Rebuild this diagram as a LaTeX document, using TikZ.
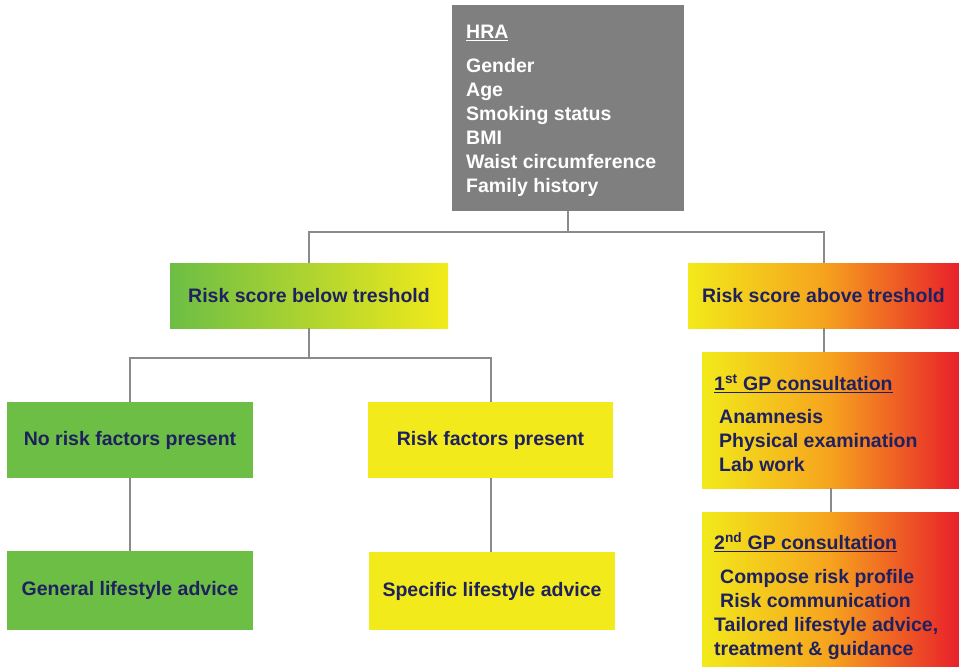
\documentclass[tikz,border=0pt]{standalone}
\usepackage{fontspec}
\setmainfont{Liberation Sans}
\definecolor{hragray}{HTML}{7F7F7F}
\definecolor{ggreen}{HTML}{6CBE45}
\definecolor{gyellow}{HTML}{F2EA1A}
\definecolor{gorange}{HTML}{F6A31E}
\definecolor{gred}{HTML}{E8202A}
\definecolor{navy}{HTML}{1F215F}
\definecolor{linegray}{HTML}{8A8A8A}
\tikzset{
  box/.style={rectangle, inner sep=0pt, draw=none},
  txt/.style={text=navy, font=\bfseries\fontsize{19.5}{24}\selectfont},
  wtxt/.style={text=white, font=\bfseries\fontsize{19.5}{24}\selectfont, align=left, inner sep=0pt},
  ltxt/.style={text=navy, font=\bfseries\fontsize{19.5}{24}\selectfont, align=left, inner sep=0pt},
  conn/.style={draw=linegray, line width=2pt},
  gy/.style={left color=ggreen, right color=gyellow},
  yr/.style={left color=gyellow, right color=gred, middle color=gorange},
}
\begin{document}
\begin{tikzpicture}[x=1pt,y=-1pt]
\useasboundingbox[fill=white] (0,0) rectangle (959,667);
% boxes
\node[box, fill=hragray, minimum width=232pt, minimum height=206pt] (hra) at (568,108) {};
\node[box, gy, minimum width=278pt, minimum height=65pt, txt] (below) at (309,295.5) {Risk score below treshold};
\node[box, yr, minimum width=271pt, minimum height=65pt, txt] (above) at (823.5,295.5) {Risk score above treshold};
\node[box, fill=ggreen, minimum width=246pt, minimum height=76pt, txt] (norisk) at (130,440) {No risk factors present};
\node[box, fill=gyellow, minimum width=245pt, minimum height=76pt, txt] (riskf) at (490.5,440) {Risk factors present};
\node[box, fill=ggreen, minimum width=246pt, minimum height=79pt, txt] (general) at (130,590.5) {General lifestyle advice};
\node[box, fill=gyellow, minimum width=246pt, minimum height=78pt, txt] (specific) at (492,591) {Specific lifestyle advice};
\node[box, yr, minimum width=257pt, minimum height=136pt] (gp1) at (830.5,420) {};
\node[box, yr, minimum width=257pt, minimum height=155pt] (gp2) at (830.5,589.5) {};
% texts
\node[wtxt, anchor=north west] (hratxt) at (466,25) {\underline{HRA}\\[10pt]Gender\\Age\\Smoking status\\BMI\\Waist circumference\\Family history};
\node[ltxt, anchor=north west] (gp1txt) at (714,374) {\underline{1\textsuperscript{st} GP consultation}\\[9pt]\hspace*{5pt}Anamnesis\\\hspace*{5pt}Physical examination\\\hspace*{5pt}Lab work};
\node[ltxt, anchor=north west] (gp2txt) at (714,532) {\underline{2\textsuperscript{nd} GP consultation}\\[10pt]\hspace*{6pt}Compose risk profile\\\hspace*{6pt}Risk communication\\Tailored lifestyle advice,\\treatment \& guidance};
% connectors
\coordinate (bus1) at (0,232);
\coordinate (bus2) at (0,358);
\draw[conn] (hra.south) -- (hra.south |- bus1);
\draw[conn] (below.north) |- (above.north |- bus1) -- (above.north);
\draw[conn] (below.south) -- (below.south |- bus2);
\draw[conn] (norisk.north) |- (riskf.north |- bus2) -- (riskf.north);
\draw[conn] (norisk.south) -- (general.north);
\draw[conn] (riskf.south) -- (riskf.south |- specific.north);
\draw[conn] (above.south) -- (above.south |- gp1.north);
\draw[conn] (gp1.south) -- (gp2.north);
\end{tikzpicture}
\end{document}
